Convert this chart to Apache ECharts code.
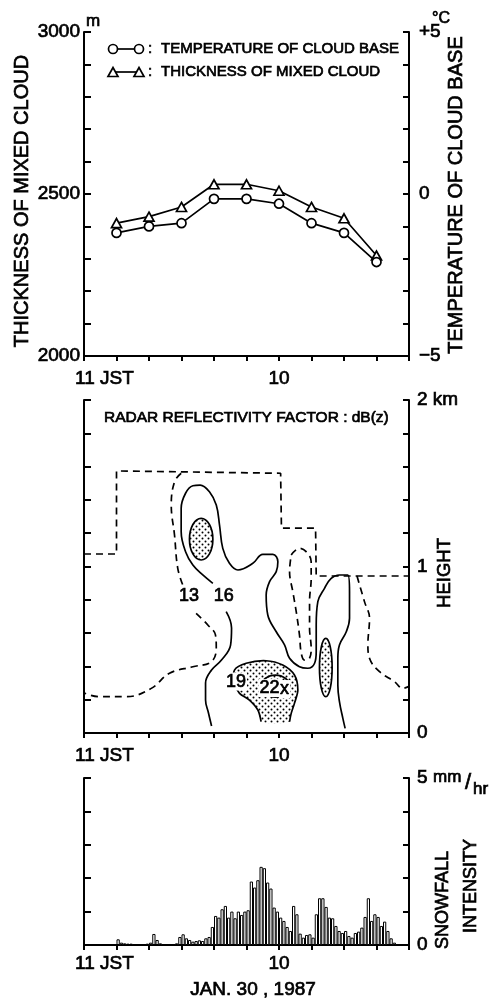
<!DOCTYPE html>
<html>
<head>
<meta charset="utf-8">
<script src="https://cdn.jsdelivr.net/npm/echarts/dist/echarts.min.js"></script>
<style>
  html, body { margin: 0; padding: 0; background: #fff; }
  #chart { width: 495px; height: 1001px; }
</style>
</head>
<body>
<div id="chart"></div>
<script>
const FONT = '"Liberation Sans", Arial, sans-serif'

// top panel: sonde values every 2 min (minutes after 11 JST)
const sondeTimes = [0, 2, 4, 6, 8, 10, 12, 14, 16]
const cloudBaseTemp = [-1.2, -1.0, -0.9, -0.15, -0.15, -0.3, -0.9, -1.2, -2.1]
const mixedThickness = [2410, 2430, 2460, 2530, 2530, 2510, 2460, 2425, 2310]

// bottom panel: snowfall intensity (mm/hr), one bar per 12 s starting at 11:00
const snowStart = 0.1
const snowStep = 0.2
const snowfall = [
  0.17, 0.07, 0.05, 0.04, 0.04, 0.02, 0, 0, 0, 0.04,
  0.07, 0.33, 0.15, 0.05, 0.02, 0.02, 0.03, 0.03, 0.05, 0.24,
  0.32, 0.2, 0.15, 0.1, 0.12, 0.14, 0.12, 0.2, 0.24, 0.54,
  0.87, 0.82, 1.07, 1.17, 0.82, 1.0, 0.8, 1.0, 0.9, 1.0,
  1.04, 1.9, 1.72, 1.94, 2.34, 2.3, 1.87, 1.69, 1.12, 1.0,
  0.82, 0.72, 0.54, 0.42, 1.17, 0.92, 0.34, 0.22, 0.3, 0.32,
  0.22, 0.92, 1.4, 1.4, 1.14, 0.82, 0.8, 0.57, 0.42, 0.36,
  0.42, 0.27, 0.22, 0.36, 0.4, 0.52, 0.84, 1.4, 0.72, 0.92,
  0.84, 0.57, 0.7, 0.42, 0.2, 0.07
]

// middle panel: radar reflectivity contours, points are [minute, km]
const echoTop = [[-2, 1.075], [0, 1.075], [0, 1.574], [10.1, 1.56], [10.15, 1.231], [12.25, 1.231], [12.29, 0.943], [18, 0.943]]

const dbz13 = [
  [[3.98, 1.56], [3.57, 1.509], [3.37, 1.369], [3.57, 1.189], [3.77, 0.989], [4.08, 0.889]],
  [[4.9, 0.719], [5.62, 0.649], [6.09, 0.589], [6.14, 0.509], [5.83, 0.428], [4.7, 0.398], [3.26, 0.359],
   [2.14, 0.268], [0.6, 0.218], [-1.05, 0.218], [-2, 0.24]],
  [[14.8, 0.943], [15.26, 0.789], [15.57, 0.689], [15.47, 0.529], [15.57, 0.449], [16.19, 0.368],
   [17.11, 0.308], [17.62, 0.268], [18, 0.28]],
  [[10.75, 1.069], [11.26, 1.109], [11.67, 1.089], [11.98, 1.029], [11.98, 0.929], [11.88, 0.789],
   [11.88, 0.629], [11.98, 0.509], [11.88, 0.449], [11.57, 0.438], [11.37, 0.479], [11.26, 0.589],
   [11.06, 0.729], [10.85, 0.849], [10.65, 0.969], [10.75, 1.069]]
]

const dbz16 = [
  [[5.93, 0.899], [5.31, 0.949], [4.7, 1.009], [4.25, 1.089], [3.98, 1.209], [3.98, 1.35], [4.25, 1.44],
   [4.7, 1.485], [5.15, 1.489], [5.72, 1.449], [6.14, 1.369], [6.34, 1.249], [6.54, 1.109], [6.95, 1.019],
   [7.47, 0.979], [8.39, 1.019], [9.0, 1.073], [9.62, 1.073], [9.93, 1.029], [9.83, 0.969], [9.42, 0.909],
   [9.21, 0.829], [9.31, 0.709], [9.83, 0.608], [10.34, 0.529], [10.65, 0.449], [11.26, 0.398],
   [11.77, 0.389], [12.19, 0.419], [12.29, 0.488], [12.29, 0.649], [12.39, 0.789], [12.8, 0.869],
   [13.21, 0.929], [13.72, 0.949], [14.23, 0.949], [14.34, 0.849], [14.34, 0.689], [14.14, 0.608],
   [13.72, 0.529], [13.62, 0.449], [13.62, 0.288], [13.72, 0.188], [13.93, 0.088], [14.07, 0.028]],
  [[6.75, 0.729], [7.08, 0.631], [7.02, 0.528], [6.46, 0.438], [5.85, 0.378], [5.48, 0.3],
   [5.48, 0.198], [5.66, 0.12], [5.85, 0.042]]
]

// >= 19 dBZ area (open at the bottom)
const dbz19 = [[8.9, 0.068], [8.7, 0.138], [8.18, 0.198], [7.57, 0.238], [7.26, 0.298], [7.26, 0.378],
  [7.98, 0.419], [9.21, 0.434], [10.23, 0.408], [10.95, 0.348], [11.16, 0.258], [10.95, 0.178],
  [10.75, 0.118], [10.65, 0.068]]
// small >= 19 dBZ cells: [minute, km, half width (min), half height (km)]
const dbz19Cells = [[5.21, 1.164, 0.72, 0.125], [12.88, 0.393, 0.39, 0.175]]
const dbz22Cells = [[9.78, 0.282, 0.86, 0.066]]

const contourLabels = [['13', 4.46, 0.82], ['16', 6.6, 0.82], ['19', 7.35, 0.309], ['22', 9.42, 0.27], ['x', 10.34, 0.264]]

// stipple pattern
const dots = document.createElement('canvas')
dots.width = 6
dots.height = 6
const g = dots.getContext('2d')
g.fillStyle = '#fff'
g.fillRect(0, 0, 6, 6)
g.fillStyle = '#000'
g.beginPath(); g.arc(1.5, 1.5, 1.0, 0, Math.PI * 2); g.fill()
g.beginPath(); g.arc(4.5, 4.5, 1.0, 0, Math.PI * 2); g.fill()
const stipple = { image: dots, repeat: 'repeat' }

const black = '#000'
const line2 = { color: black, width: 2 }
const heavy = { textBorderColor: black, textBorderWidth: 0.7 }

function timeAxis(gridIndex, margin) {
  return {
    type: 'value', gridIndex, min: -2, max: 18, interval: 2,
    axisLine: { show: true, onZero: false, lineStyle: line2 },
    axisTick: { show: true, inside: false, length: 5, lineStyle: line2 },
    splitLine: { show: false },
    axisLabel: Object.assign({
      margin, color: black, fontFamily: FONT, fontSize: 19,
      formatter: v => v === 0 ? '{j|11 JST}' : v === 10 ? '10' : '',
      rich: { j: Object.assign({ padding: [0, 24, 0, 0], color: black, fontFamily: FONT, fontSize: 19 }, heavy) }
    }, heavy)
  }
}

function valueAxis(gridIndex, position, min, max, interval, labels, margin, tickLen) {
  return {
    type: 'value', gridIndex, position, min, max, interval,
    axisLine: { show: true, onZero: false, lineStyle: line2 },
    axisTick: { show: true, inside: true, length: tickLen, lineStyle: line2 },
    splitLine: { show: false },
    axisLabel: Object.assign({
      show: !!labels, margin, color: black, fontFamily: FONT, fontSize: 19,
      formatter: v => {
        if (!labels) return ''
        const hit = labels.find(l => Math.abs(l[0] - v) < 1e-6)
        return hit ? hit[1] : ''
      }
    }, heavy)
  }
}

function contour(path, dashed, smooth) {
  return {
    type: 'line', xAxisIndex: 1, yAxisIndex: 2, data: path,
    symbol: 'none', smooth, silent: true, z: 2,
    lineStyle: { color: black, width: 1.7, type: dashed ? [7, 5] : 'solid' }
  }
}

function ellipseRenderer(fill) {
  return (params, api) => {
    const c = api.coord([api.value(0), api.value(1)])
    const s = api.size([api.value(2), api.value(3)])
    return {
      type: 'ellipse',
      shape: { cx: c[0], cy: c[1], rx: s[0], ry: s[1] },
      style: { fill, stroke: black, lineWidth: 1.7 }
    }
  }
}

const series = [
  {
    type: 'line', xAxisIndex: 0, yAxisIndex: 0,
    data: sondeTimes.map((t, i) => [t, mixedThickness[i]]),
    symbol: 'triangle', symbolSize: [10, 9], z: 3,
    lineStyle: { color: black, width: 1.7 },
    itemStyle: { color: '#fff', borderColor: black, borderWidth: 1.7 }
  },
  {
    type: 'line', xAxisIndex: 0, yAxisIndex: 1,
    data: sondeTimes.map((t, i) => [t, cloudBaseTemp[i]]),
    symbol: 'circle', symbolSize: 9, z: 3,
    lineStyle: { color: black, width: 1.7 },
    itemStyle: { color: '#fff', borderColor: black, borderWidth: 1.7 }
  },
  contour(echoTop, true, false),
  ...dbz13.map(p => contour(p, true, 0.4)),
  ...dbz16.map(p => contour(p, false, 0.4)),
  {
    type: 'custom', xAxisIndex: 1, yAxisIndex: 2, data: [[0, 0]], silent: true, z: 3,
    renderItem: (params, api) => {
      const pts = dbz19.map(p => api.coord(p))
      return {
        type: 'group', children: [
          { type: 'polygon', shape: { points: pts, smooth: 0.3 }, style: { fill: stipple } },
          { type: 'polyline', shape: { points: pts, smooth: 0.3 }, style: { fill: null, stroke: black, lineWidth: 1.7 } }
        ]
      }
    }
  },
  { type: 'custom', xAxisIndex: 1, yAxisIndex: 2, data: dbz19Cells, silent: true, z: 3, renderItem: ellipseRenderer(stipple) },
  { type: 'custom', xAxisIndex: 1, yAxisIndex: 2, data: dbz22Cells, silent: true, z: 4, renderItem: ellipseRenderer(null) },
  {
    type: 'scatter', xAxisIndex: 1, yAxisIndex: 2, symbolSize: 0, silent: true, z: 6,
    itemStyle: { opacity: 1 },
    data: contourLabels.map(([t, x, y]) => ({ value: [x, y], name: t })),
    label: Object.assign({
      show: true, position: 'inside', formatter: '{b}', color: black, fontFamily: FONT,
      fontSize: 18, backgroundColor: '#fff', padding: [0, 1], opacity: 1
    }, heavy)
  },
  {
    type: 'bar', xAxisIndex: 2, yAxisIndex: 4,
    data: snowfall.map((v, i) => [snowStart + i * snowStep, v]),
    barWidth: 3.25, silent: true,
    itemStyle: { color: '#fff', borderColor: black, borderWidth: 1 }
  }
]

function txt(x, y, text, size, opts) {
  return Object.assign({
    type: 'text', x, y, silent: true,
    style: Object.assign({
      text, font: `${size}px ${FONT}`, fill: black, stroke: black, lineWidth: 0.7,
      align: 'left', verticalAlign: 'middle', textAlign: 'left', textVerticalAlign: 'middle'
    }, (opts && opts.style) || {})
  }, (opts && opts.el) || {})
}
const centered = { style: { align: 'center', textAlign: 'center' } }
const rot = { style: { align: 'center', textAlign: 'center' }, el: { rotation: Math.PI / 2 } }

const graphic = [
  txt(22, 201, 'THICKNESS OF MIXED CLOUD', 20, rot),
  txt(456, 195, 'TEMPERATURE OF CLOUD BASE', 20, rot),
  txt(86, 21, 'm', 17),
  txt(432, 19, '°C', 16),
  { type: 'polyline', silent: true, shape: { points: [[113, 49], [139, 49]] }, style: { stroke: black, lineWidth: 1.7 } },
  { type: 'circle', silent: true, shape: { cx: 113, cy: 49, r: 4.5 }, style: { fill: '#fff', stroke: black, lineWidth: 1.7 } },
  { type: 'circle', silent: true, shape: { cx: 139, cy: 49, r: 4.5 }, style: { fill: '#fff', stroke: black, lineWidth: 1.7 } },
  txt(148, 49, ':', 15),
  txt(161, 49, 'TEMPERATURE OF CLOUD BASE', 15),
  { type: 'polyline', silent: true, shape: { points: [[113, 72], [139, 72]] }, style: { stroke: black, lineWidth: 1.7 } },
  { type: 'polygon', silent: true, shape: { points: [[108, 76.5], [118, 76.5], [113, 67.5]] }, style: { fill: '#fff', stroke: black, lineWidth: 1.7 } },
  { type: 'polygon', silent: true, shape: { points: [[134, 76.5], [144, 76.5], [139, 67.5]] }, style: { fill: '#fff', stroke: black, lineWidth: 1.7 } },
  txt(148, 72, ':', 15),
  txt(161, 72, 'THICKNESS OF MIXED CLOUD', 15),
  txt(104, 418, 'RADAR REFLECTIVITY FACTOR : dB(z)', 15.5),
  txt(445, 573, 'HEIGHT', 18.5, rot),
  txt(433, 777, 'mm', 17),
  txt(468, 783, '/', 22, centered),
  txt(473, 789, 'hr', 17),
  txt(443, 900, 'SNOWFALL', 18, rot),
  txt(471, 886, 'INTENSITY', 18, rot),
  txt(253, 990, 'JAN. 30 , 1987', 19, centered)
]

const chart = echarts.init(document.getElementById('chart'))
chart.setOption({
  animation: false,
  backgroundColor: '#fff',
  grid: [
    { left: 84, right: 86, top: 32, height: 324 },
    { left: 84, right: 86, top: 400, height: 333 },
    { left: 84, right: 86, top: 778, height: 167 }
  ],
  xAxis: [timeAxis(0, 13), timeAxis(1, 13), timeAxis(2, 9)],
  yAxis: [
    valueAxis(0, 'left', 2000, 3000, 100, [[2000, '2000'], [2500, '2500'], [3000, '3000']], 4, 7),
    valueAxis(0, 'right', -5, 5, 1, [[-5, '−5'], [0, '0'], [5, '+5']], 10, 6),
    valueAxis(1, 'left', 0, 2, 0.2, null, 4, 7),
    valueAxis(1, 'right', 0, 2, 0.2, [[0, '0'], [1, '1'], [2, '2 km']], 8, 6),
    valueAxis(2, 'left', 0, 5, 1, null, 4, 7),
    valueAxis(2, 'right', 0, 5, 1, [[0, '0'], [5, '5']], 8, 6)
  ],
  series,
  graphic
})
</script>
</body>
</html>
